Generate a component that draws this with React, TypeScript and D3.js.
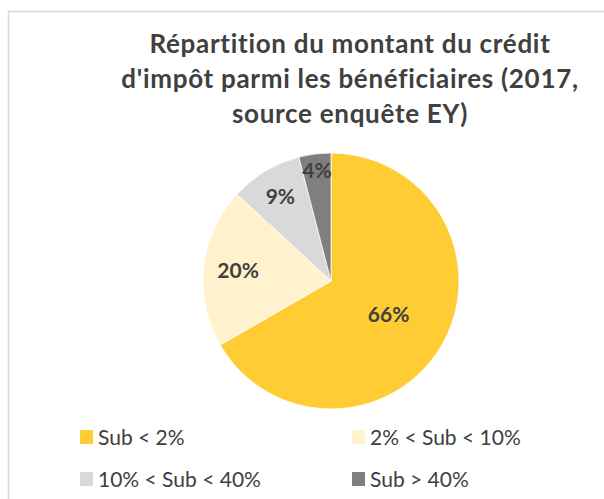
import React, { useEffect, useRef } from "react";
import * as d3 from "d3";

// values (percent of beneficiaries)
const categories = ["Sub < 2%", "2% < Sub < 10%", "10% < Sub < 40%", "Sub > 40%"];
const shares = [66, 20, 9, 4];
const sliceColors = ["#FFCD33", "#FFF2CC", "#D9D9D9", "#7F7F7F"];
const titleLines = [
  "Répartition du montant du crédit",
  "d'impôt parmi les bénéficiaires (2017,",
  "source enquête EY)",
];

// where each data label sits, as a fraction of the radius (Excel "best fit")
const labelRadius = [0.52, 0.73, 0.77, 0.87];

const textColor = "#404040";
const font = "Lato, 'Open Sans', sans-serif";

export default function App() {
  const svgElem = useRef<SVGSVGElement>(null);
  const width = 604;
  const height = 499;

  useEffect(() => {
    const svg = d3.select(svgElem.current);
    svg.selectAll("*").remove();

    // chart area frame (cropped on the right and bottom)
    svg
      .append("rect")
      .attr("x", 8.5)
      .attr("y", 11.5)
      .attr("width", 700)
      .attr("height", 600)
      .attr("fill", "#fff")
      .attr("stroke", "#D9D9D9")
      .attr("stroke-width", 1.5);

    svg
      .append("g")
      .selectAll("text")
      .data(titleLines)
      .join("text")
      .attr("x", 350)
      .attr("y", (d, i) => 53 + i * 35)
      .attr("text-anchor", "middle")
      .attr("font-family", font)
      .attr("font-weight", "bold")
      .attr("font-size", 26)
      .attr("letter-spacing", 0.7)
      .attr("fill", textColor)
      .text((d) => d);

    const cx = 331;
    const cy = 281;
    const r = 128;

    const pie = d3
      .pie<number>()
      .sort(null)
      .value((d) => d);
    const arcs = pie(shares);
    const arc = d3.arc<d3.PieArcDatum<number>>().innerRadius(0).outerRadius(r);

    const g = svg.append("g").attr("transform", `translate(${cx},${cy})`);
    g.selectAll("path")
      .data(arcs)
      .join("path")
      .attr("d", arc)
      .attr("fill", (d, i) => sliceColors[i])
      .attr("stroke", "#fff")
      .attr("stroke-width", 0.75);

    g.selectAll("text")
      .data(arcs)
      .join("text")
      .attr("transform", (d, i) => {
        const a = (d.startAngle + d.endAngle) / 2;
        const rr = r * labelRadius[i];
        return `translate(${Math.sin(a) * rr},${-Math.cos(a) * rr})`;
      })
      .attr("text-anchor", "middle")
      .attr("dy", "0.36em")
      .attr("font-family", font)
      .attr("font-weight", "bold")
      .attr("font-size", 21)
      .attr("fill", textColor)
      .text((d) => `${d.data}%`);

    // legend, two columns
    const legend = svg
      .append("g")
      .selectAll("g")
      .data(categories)
      .join("g")
      .attr(
        "transform",
        (d, i) => `translate(${i % 2 === 0 ? 80 : 352},${Math.floor(i / 2) * 42 + 430})`
      );
    legend
      .append("rect")
      .attr("width", 13)
      .attr("height", 14)
      .attr("fill", (d, i) => sliceColors[i]);
    legend
      .append("text")
      .attr("x", 18)
      .attr("y", 14.5)
      .attr("font-family", font)
      .attr("font-size", 21)
      .attr("fill", textColor)
      .text((d) => d);
  }, []);

  return (
    <div style={{ position: "absolute", left: 0, top: 0 }}>
      <svg ref={svgElem} width={width} height={height} style={{ display: "block" }}></svg>
    </div>
  );
}
